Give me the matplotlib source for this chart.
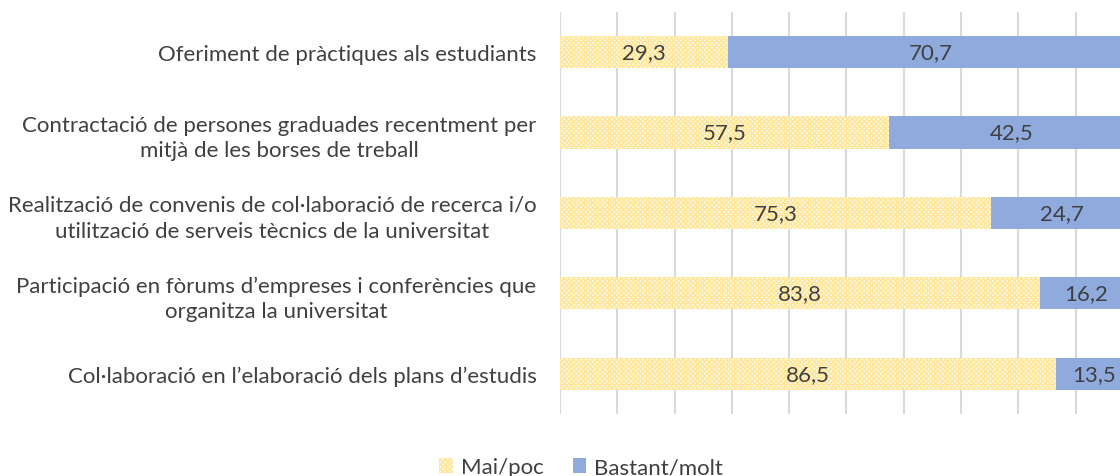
import matplotlib.pyplot as plt
import numpy as np

# dades
categories = [
    "Oferiment de pràctiques als estudiants",
    "Contractació de persones graduades recentment per\nmitjà de les borses de treball",
    "Realització de convenis de col·laboració de recerca i/o\nutilització de serveis tècnics de la universitat",
    "Participació en fòrums d’empreses i conferències que\norganitza la universitat",
    "Col·laboració en l’elaboració dels plans d’estudis",
]
mai_poc = [29.3, 57.5, 75.3, 83.8, 86.5]
bastant_molt = [70.7, 42.5, 24.7, 16.2, 13.5]
series_names = ["Mai/poc", "Bastant/molt"]

plt.rcParams['font.family'] = ['Lato', 'DejaVu Sans']
plt.rcParams['hatch.linewidth'] = 1.2
txt_col = "#404040"
yellow = "#FFE699"
blue = "#8FAADC"

fig = plt.figure(figsize=(11.2, 4.77), dpi=100)
ax = fig.add_axes([0.5, 0.13, 0.5116, 0.8428])

y = np.arange(len(categories))
h = 0.4
b1 = ax.barh(y, mai_poc, height=h, color="white", edgecolor=yellow, hatch="x" * 7,
             linewidth=0, label=series_names[0], zorder=2)
b2 = ax.barh(y, bastant_molt, left=mai_poc, height=h, color=blue, linewidth=0,
             label=series_names[1], zorder=2)

# etiquetes de dades
for bars, vals in [(b1, mai_poc), (b2, bastant_molt)]:
    for r, v in zip(bars, vals):
        cx = r.get_x() + r.get_width() / 2
        ax.text(cx, r.get_y() + r.get_height() / 2, f"{v:.1f}".replace(".", ","),
                ha="center", va="center", fontsize=16, color=txt_col, zorder=3)

ax.set_xlim(0, 100)
ax.set_ylim(len(categories) - 0.5, -0.5)
ax.set_xticks(np.arange(0, 101, 10))
ax.set_xticklabels([])
ax.grid(axis="x", color="#D9D9D9", linewidth=1.5, zorder=0)
ax.set_axisbelow(True)
ax.set_yticks(y)
ax.set_yticklabels(categories, fontsize=16, color=txt_col)
for t in ax.get_yticklabels():
    t.set_multialignment("center")
    t.set_linespacing(1.35)
ax.tick_params(axis="both", length=0)
ax.tick_params(axis="y", pad=17)
for s in ax.spines.values():
    s.set_visible(False)

fig.legend(handles=[b1, b2], labels=series_names, loc="center", bbox_to_anchor=(0.519, 0.018),
           ncol=2, frameon=False, fontsize=16, handlelength=0.62, handleheight=0.62,
           handletextpad=0.35, columnspacing=1.3, labelcolor=txt_col)

fig.savefig("out.png", dpi=100)
